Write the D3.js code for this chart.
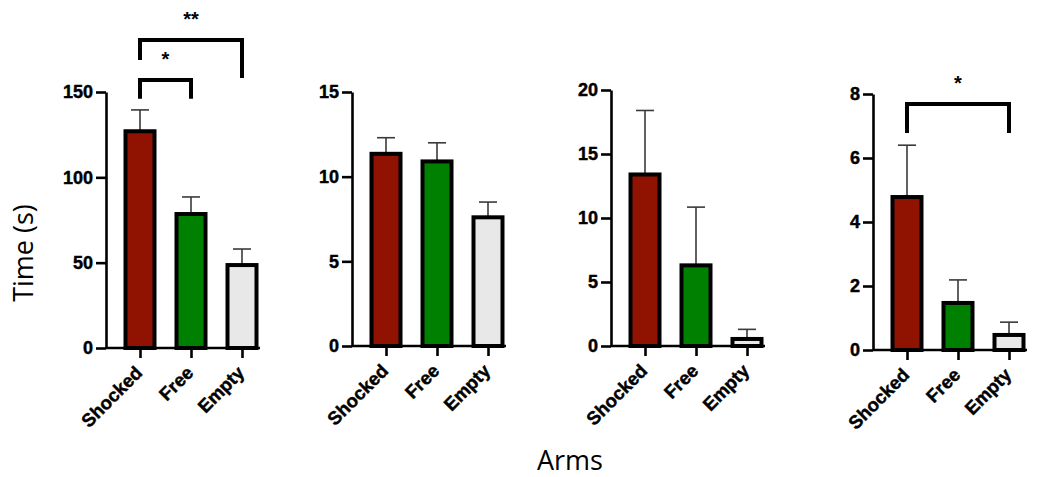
<!DOCTYPE html>
<html>
<head>
<meta charset="utf-8">
<script src="https://cdn.jsdelivr.net/npm/d3@7"></script>
<style>
  html, body { margin: 0; padding: 0; background: #fff; }
  svg { display: block; }
</style>
</head>
<body>
<script>
// Time spent in each arm, four experiments (mean ± SEM)
const categories = ["Shocked", "Free", "Empty"];
const barColors = ["#8f1300", "#008000", "#e8e8e8"];

const means1 = [127, 78.5, 48.6];
const sem1 = [12.5, 10, 9.4];
const ticks1 = [0, 50, 100, 150];

const means2 = [11.35, 10.9, 7.6];
const sem2 = [0.95, 1.1, 0.9];
const ticks2 = [0, 5, 10, 15];

const means3 = [13.4, 6.3, 0.55];
const sem3 = [5.0, 4.55, 0.75];
const ticks3 = [0, 5, 10, 15, 20];

const means4 = [4.78, 1.47, 0.47];
const sem4 = [1.62, 0.72, 0.4];
const ticks4 = [0, 2, 4, 6, 8];

// Significance brackets: [panel, from, to, level, left leg end, right leg end, label]
const bracketPanel = [0, 0, 3];
const bracketFrom = ["Shocked", "Shocked", "Shocked"];
const bracketTo = ["Free", "Empty", "Empty"];
const bracketLevel = [157, 180.5, 7.69];
const bracketLegFrom = [146, 168.7, 6.78];
const bracketLegTo = [146, 158.2, 6.78];
const bracketLabel = ["*", "**", "*"];

const panels = [
  { means: means1, sem: sem1, ticks: ticks1, axisX: 106, y0: 348, yTop: 92 },
  { means: means2, sem: sem2, ticks: ticks2, axisX: 352, y0: 346, yTop: 92 },
  { means: means3, sem: sem3, ticks: ticks3, axisX: 611, y0: 346, yTop: 90 },
  { means: means4, sem: sem4, ticks: ticks4, axisX: 873, y0: 350, yTop: 94 }
];

const W = 1039, H = 477;
const barW = 29;
const capW = 18;
const tickFont = "'Liberation Sans', Arial, sans-serif";

const svg = d3.select("body").append("svg")
  .attr("width", W).attr("height", H);
svg.append("rect").attr("width", W).attr("height", H).attr("fill", "#fff");

// heavy bold look for axis numbers and labels
function heavy(sel, size) {
  sel.attr("font-family", tickFont).attr("font-size", size).attr("font-weight", "bold")
    .attr("fill", "#000").attr("stroke", "#000").attr("stroke-width", 0.45)
    .attr("paint-order", "stroke");
}

panels.forEach((p, pi) => {
  const g = svg.append("g");
  const yMax = p.ticks[p.ticks.length - 1];
  const y = d3.scaleLinear().domain([0, yMax]).range([p.y0, p.yTop]);
  const x = d3.scalePoint().domain(categories).range([p.axisX + 34, p.axisX + 136]);
  const axisEnd = p.axisX + 154;

  // error bars (upper only), drawn under the bars
  const err = g.append("g");
  categories.forEach((c, i) => {
    const top = y(p.means[i] + p.sem[i]);
    err.append("line")
      .attr("x1", x(c)).attr("x2", x(c))
      .attr("y1", y(p.means[i])).attr("y2", top)
      .attr("stroke", "#3a3a3a").attr("stroke-width", 1.6);
    err.append("line")
      .attr("x1", x(c) - capW / 2).attr("x2", x(c) + capW / 2)
      .attr("y1", top).attr("y2", top)
      .attr("stroke", "#3a3a3a").attr("stroke-width", 1.6);
  });

  // bars
  g.append("g").selectAll("rect")
    .data(categories)
    .join("rect")
    .attr("x", c => x(c) - barW / 2)
    .attr("width", barW)
    .attr("y", (c, i) => y(p.means[i]))
    .attr("height", (c, i) => y(0) - y(p.means[i]))
    .attr("fill", (c, i) => barColors[i])
    .attr("stroke", "#000")
    .attr("stroke-width", 4);

  // y axis
  const ya = g.append("g")
    .attr("transform", `translate(${p.axisX},0)`)
    .call(d3.axisLeft(y).tickValues(p.ticks).tickSize(10).tickSizeOuter(0).tickPadding(3));
  ya.select(".domain").attr("stroke", "#000").attr("stroke-width", 2.6);
  ya.selectAll(".tick line").attr("stroke", "#000").attr("stroke-width", 2.6);
  ya.selectAll(".tick text").call(heavy, 18);

  // x axis baseline
  g.append("line")
    .attr("x1", p.axisX).attr("x2", axisEnd)
    .attr("y1", y(0)).attr("y2", y(0))
    .attr("stroke", "#000").attr("stroke-width", 2.6);

  const xa = g.append("g")
    .attr("transform", `translate(0,${y(0)})`)
    .call(d3.axisBottom(x).tickSize(10).tickSizeOuter(0));
  xa.select(".domain").remove();
  xa.selectAll(".tick line").attr("stroke", "#000").attr("stroke-width", 2.6);
  xa.selectAll(".tick text")
    .attr("x", 0).attr("y", 0).attr("dy", 0)
    .attr("text-anchor", "end")
    .attr("transform", "translate(3,26) rotate(-45)")
    .call(heavy, 18.5);

  // significance brackets for this panel
  bracketPanel.forEach((bp, bi) => {
    if (bp !== pi) return;
    const xa0 = x(bracketFrom[bi]);
    const xb0 = x(bracketTo[bi]);
    const yl = y(bracketLevel[bi]);
    g.append("path")
      .attr("d", `M${xa0},${y(bracketLegFrom[bi])}V${yl}H${xb0}V${y(bracketLegTo[bi])}`)
      .attr("fill", "none").attr("stroke", "#000").attr("stroke-width", 4)
      .attr("stroke-linejoin", "miter");
    g.append("text")
      .attr("x", (xa0 + xb0) / 2).attr("y", yl - 14)
      .attr("text-anchor", "middle")
      .attr("font-family", tickFont).attr("font-size", 20).attr("font-weight", "bold")
      .text(bracketLabel[bi]);
  });
});

// shared axis titles
const titleFont = "'Open Sans', 'Liberation Sans', sans-serif";
svg.append("text")
  .attr("transform", "translate(33,253) rotate(-90)")
  .attr("text-anchor", "middle")
  .attr("font-family", titleFont).attr("font-size", 27)
  .text("Time (s)");
svg.append("text")
  .attr("x", 570).attr("y", 470)
  .attr("text-anchor", "middle")
  .attr("font-family", titleFont).attr("font-size", 27)
  .text("Arms");
</script>
</body>
</html>
